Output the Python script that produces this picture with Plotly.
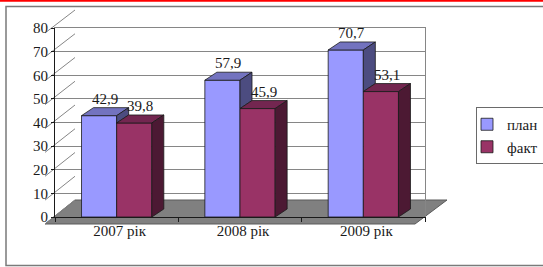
import plotly.graph_objects as go

# ---- data ----
categories = ["2007 рік", "2008 рік", "2009 рік"]
plan = [42.9, 57.9, 70.7]
fakt = [39.8, 45.9, 53.1]
series_names = ["план", "факт"]
y_ticks = [0, 10, 20, 30, 40, 50, 60, 70, 80]

# ---- geometry helpers (pixel layout of the 543x267 figure) ----
W_PX, H_PX = 543, 267
def fx(px):
    return px / W_PX
def fy(py):
    return 1 - py / H_PX

FONT = "Liberation Serif"
PLAN_C = ["#9999FF", "#7373BF", "#4C4C80"]   # front, top, side
FAKT_C = ["#993366", "#732650", "#4C1933"]
GRID = "#868686"

FRONT = dict(x0=45, x1=415, yb=224, yt=33)
BACK = dict(x0=75, x1=447, yb=200, yt=10)
BARS = dict(x0=55, x1=425, yb=217, yt=28)
YMAX = 80
n = len(categories)
xs = list(range(n))

BW = 0.285
px_per_cat = (BARS["x1"] - BARS["x0"]) / n
px_per_val = (BARS["yb"] - BARS["yt"]) / YMAX
DX = 12 / px_per_cat
DY = 8 / px_per_val

fig = go.Figure()
fig.add_trace(go.Bar(name=series_names[0], x=xs, y=plan, width=BW, offset=-BW,
                     marker=dict(color=PLAN_C[0], line=dict(color="#1a1a1a", width=0.8)),
                     xaxis="x", yaxis="y"))
fig.add_trace(go.Bar(name=series_names[1], x=xs, y=fakt, width=BW, offset=0,
                     marker=dict(color=FAKT_C[0], line=dict(color="#1a1a1a", width=0.8)),
                     xaxis="x", yaxis="y"))

shapes = []
def poly(pts):
    return "M " + " L ".join(f"{a},{b}" for a, b in pts) + " Z"

shapes.append(dict(type="line", xref="paper", yref="paper", x0=0, x1=1, y0=fy(0.8), y1=fy(0.8),
                   line=dict(color="#FF0000", width=2), layer="below"))
shapes.append(dict(type="rect", xref="paper", yref="paper", x0=fx(6), x1=fx(560), y0=fy(265.5), y1=fy(6.5),
                   line=dict(color="#7a7a7a", width=1.5), layer="below"))

floor = [(fx(FRONT["x0"]), fy(FRONT["yb"])), (fx(FRONT["x1"]), fy(FRONT["yb"])),
         (fx(BACK["x1"]), fy(BACK["yb"])), (fx(BACK["x0"]), fy(BACK["yb"]))]
shapes.append(dict(type="path", xref="paper", yref="paper", path=poly(floor),
                   fillcolor="#808080", line=dict(color="#5a5a5a", width=1), layer="below"))

for v in y_ticks:
    yf = FRONT["yb"] - (FRONT["yb"] - FRONT["yt"]) * v / YMAX
    yb = BACK["yb"] - (BACK["yb"] - BACK["yt"]) * v / YMAX
    shapes.append(dict(type="line", xref="paper", yref="paper",
                       x0=fx(FRONT["x0"]), y0=fy(yf), x1=fx(BACK["x0"]), y1=fy(yb),
                       line=dict(color=GRID, width=1), layer="below"))

for i, (p, f) in enumerate(zip(plan, fakt)):
    faces = [
        ([(i - BW, p), (i - BW + DX, p + DY), (i + DX, p + DY), (i, p)], PLAN_C[1]),
        ([(i, p), (i + DX, p + DY), (i + DX, f + DY), (i, f)], PLAN_C[2]),
        ([(i, f), (i + DX, f + DY), (i + BW + DX, f + DY), (i + BW, f)], FAKT_C[1]),
        ([(i + BW, f), (i + BW + DX, f + DY), (i + BW + DX, DY), (i + BW, 0)], FAKT_C[2]),
    ]
    for pts, col in faces:
        shapes.append(dict(type="path", xref="x", yref="y", path=poly(pts),
                           fillcolor=col, line=dict(color="#1a1a1a", width=0.8), layer="above"))

annotations = []
for i, (p, f) in enumerate(zip(plan, fakt)):
    for val, xc in ((p, i - BW / 2), (f, i + BW / 2)):
        annotations.append(dict(x=xc + DX / 2, y=val + DY, xref="x", yref="y",
                                text=f"{val:.1f}".replace(".", ","), showarrow=False,
                                yanchor="bottom", yshift=-1,
                                font=dict(family=FONT, size=15, color="#1a1a1a")))

hidden = dict(showgrid=False, zeroline=False, showticklabels=False, showline=False, ticks="",
              automargin=False)

fig.update_layout(
    width=W_PX, height=H_PX, autosize=False,
    margin=dict(l=0, r=0, t=0, b=0, pad=0, autoexpand=False),
    paper_bgcolor="white", plot_bgcolor="rgba(0,0,0,0)",
    barmode="overlay",
    showlegend=True,
    legend=dict(x=fx(476), y=fy(107), xanchor="left", yanchor="top",
                bordercolor="#6a6a6a", borderwidth=1, bgcolor="white",
                font=dict(family=FONT, size=15, color="#1a1a1a"),
                itemwidth=30, tracegroupgap=0, indentation=-10),
    font=dict(family=FONT, size=15, color="#1a1a1a"),
    xaxis=dict(domain=[fx(BARS["x0"]), fx(BARS["x1"])], range=[-0.5, n - 0.5], **hidden),
    yaxis=dict(domain=[fy(BARS["yb"]), fy(BARS["yt"])], range=[0, YMAX], **hidden),
    xaxis2=dict(domain=[fx(BACK["x0"]), fx(BACK["x1"])], range=[0, 1], overlaying="x",
                showgrid=False, zeroline=False, showticklabels=False, ticks="", automargin=False,
                showline=True, linecolor=GRID, linewidth=1, mirror=True, anchor="y2"),
    yaxis2=dict(domain=[fy(BACK["yb"]), fy(BACK["yt"])], range=[0, YMAX], overlaying="y",
                tickvals=y_ticks, showgrid=True, gridcolor=GRID, gridwidth=1, zeroline=False,
                showticklabels=False, ticks="", showline=True, linecolor=GRID, linewidth=1,
                mirror=True, anchor="x2", automargin=False),
    xaxis3=dict(domain=[fx(FRONT["x0"]), fx(FRONT["x1"])], range=[-0.5, n - 0.5], overlaying="x",
                anchor="y3", showline=True, linecolor="#1a1a1a", linewidth=1, showgrid=False,
                zeroline=False, tickvals=xs, ticktext=categories, ticks="", ticklabelshift=3,
                automargin=False,
                tickfont=dict(family=FONT, size=15, color="#1a1a1a"),
                minor=dict(tickvals=[k - 0.5 for k in range(n + 1)], ticks="outside",
                           ticklen=4, tickcolor="#1a1a1a", showgrid=False)),
    yaxis3=dict(domain=[fy(FRONT["yb"]), fy(FRONT["yt"])], range=[0, YMAX], overlaying="y",
                anchor="x3", showline=True, linecolor="#1a1a1a", linewidth=1, showgrid=False,
                zeroline=False, tickvals=y_ticks, ticks="outside", ticklen=3, automargin=False,
                tickcolor="#1a1a1a", tickfont=dict(family=FONT, size=15, color="#1a1a1a")),
    shapes=shapes,
    annotations=annotations,
)

fig.add_trace(go.Scatter(x=[0], y=[0], xaxis="x2", yaxis="y2", mode="markers",
                         marker=dict(opacity=0), showlegend=False, hoverinfo="skip"))
fig.add_trace(go.Scatter(x=[0], y=[0], xaxis="x3", yaxis="y3", mode="markers",
                         marker=dict(opacity=0), showlegend=False, hoverinfo="skip"))

fig.write_html("out.html", config=dict(displayModeBar=False),
               post_script="document.body.style.margin='0';document.body.style.overflow='hidden';")
